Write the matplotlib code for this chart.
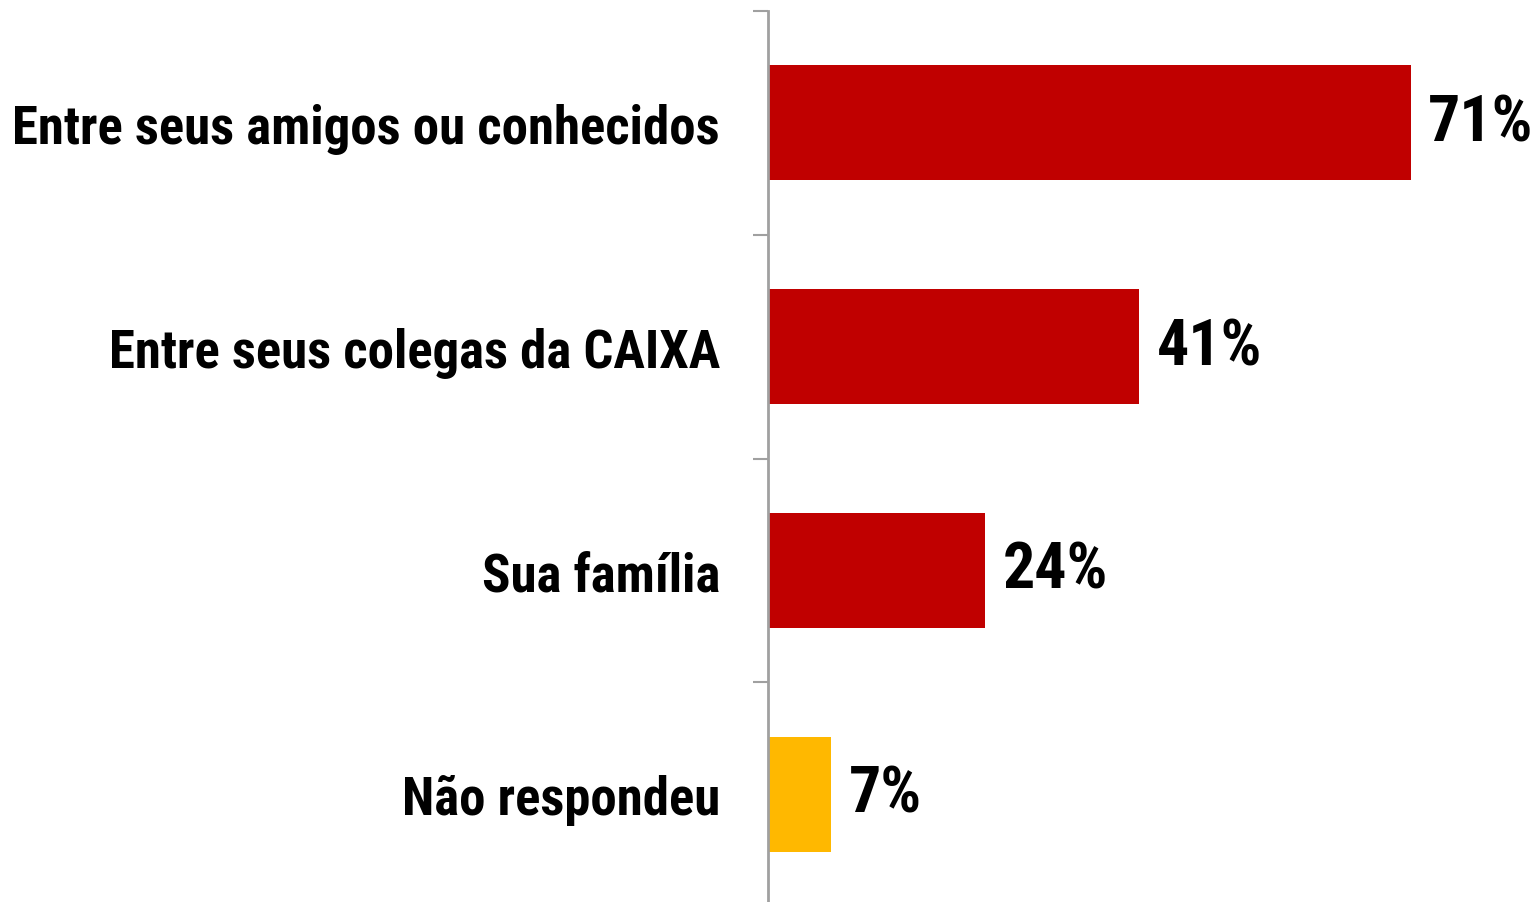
import matplotlib
matplotlib.use("Agg")
import matplotlib.pyplot as plt

categories = ["Entre seus amigos ou conhecidos", "Entre seus colegas da CAIXA",
              "Sua família", "Não respondeu"]
values = [71, 41, 24, 7]
colors = ["#C00000", "#C00000", "#C00000", "#FFB800"]
value_labels = ["71%", "41%", "24%", "7%"]

plt.rcParams["font.family"] = ["Roboto Condensed", "DejaVu Sans"]

fig = plt.figure(figsize=(15.36, 9.03), dpi=100)
ax = fig.add_axes([768 / 1536, -4 / 903, 1 - 768 / 1536, 895 / 903])

n = len(categories)
ypos = list(range(n))
ax.barh(ypos, values, height=0.515, color=colors, zorder=2)
ax.set_ylim(n - 0.5, -0.5)
ax.set_xlim(0, 768 / 9.056)

for y, v, lab in zip(ypos, values, value_labels):
    ax.text(v + 1.9, y, lab, va="center", ha="left", fontsize=46,
            fontweight="bold", color="black")

ax.set_yticks([i - 0.5 for i in range(n + 1)])
ax.set_yticklabels([])
ax.set_yticks(ypos, minor=True)
ax.set_yticklabels(categories, minor=True, fontsize=38, fontweight="bold")
ax.tick_params(axis="y", which="minor", length=0, pad=34.5)
ax.tick_params(axis="y", which="major", length=11, width=1.5, color="#A0A0A0")
ax.set_xticks([])

for s in ["top", "right", "bottom"]:
    ax.spines[s].set_visible(False)
ax.spines["left"].set_color("#A0A0A0")
ax.spines["left"].set_linewidth(2)

fig.savefig("out.png", dpi=100, facecolor="white")
